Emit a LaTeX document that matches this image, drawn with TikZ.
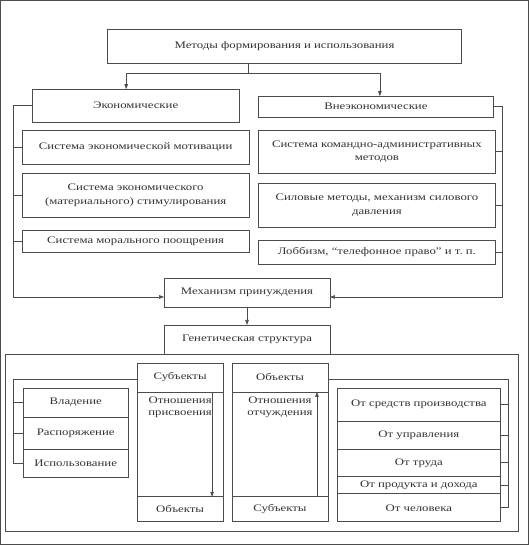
\documentclass[tikz,border=0pt]{standalone}
\usepackage{fontspec}
\setmainfont[FakeStretch=1.28]{Liberation Serif}
\usepackage{tikz}
\usepackage{xcolor}
\usetikzlibrary{positioning,arrows.meta,calc}

\begin{document}
\begin{tikzpicture}[
          x=1pt, y=-1pt,
          box/.style={draw, align=center, text=black!80, font=\fontsize{10}{13.5}\selectfont, inner sep=1pt, outer sep=0pt},
          cell/.style={box, minimum width=#1},
          lbl/.style={align=center, text=black!80, font=\fontsize{10}{12}\selectfont, inner sep=1pt},
          arr/.style={-{Triangle[length=5pt, width=3.5pt]}},
          every path/.style={draw=black!70, line width=0.6pt}
      ]
        \useasboundingbox (0,0) rectangle (529,545);
        % upper part
        \node[box, minimum width=355, minimum height=34] (top) at (284.5,46) {Методы формирования и использования};
        \node[box, minimum width=207, minimum height=33] (econ) at (135.5,105.5) {Экономические};
        \node[box, minimum width=236, minimum height=21] (nonecon) at (376,106.5) {Внеэкономические};
        \node[box, minimum width=227, minimum height=34] (m1) at (135.5,147) {Система экономической мотивации};
        \node[box, minimum width=227, minimum height=44] (m2) at (135.5,195) {Система экономического\\(материального) стимулирования};
        \node[box, minimum width=227, minimum height=22] (m3) at (135.5,241) {Система морального поощрения};
        \node[box, minimum width=238, minimum height=43] (n1) at (377,151.5) {Система командно-административных\\методов};
        \node[box, minimum width=238, minimum height=44] (n2) at (377,205) {Силовые методы, механизм силового\\давления};
        \node[box, minimum width=238, minimum height=24] (n3) at (377,252) {Лоббизм, ``телефонное право'' и т.~п.};
        \node[box, minimum width=166, minimum height=29] (mech) at (247,292.5) {Механизм принуждения};
        \node[box, minimum width=166, minimum height=29] (gen) at (247,339.5) {Генетическая структура};

        \coordinate (split) at (248,73);
        \coordinate (lbus) at (13,297);
        \coordinate (rbus) at (503,297);
        \draw (top.south -| split) -- (split);
        \draw[arr] (split) -| ([xshift=-9.5]econ.north);
        \draw[arr] (split) -| ([xshift=4]nonecon.north);
        \draw (econ.west) -| (lbus);
        \draw[arr] (lbus) -- (lbus -| mech.west);
        \draw (nonecon.east) -| (rbus);
        \draw[arr] (rbus) -- (rbus -| mech.east);
        \foreach \n in {m1,m2,m3} \draw (\n.west) -- (\n.west -| lbus);
        \foreach \n in {n1,n2,n3} \draw (\n.east) -- (\n.east -| rbus);
        \draw[arr] (mech.south) -- (gen.north);

        % genetic structure
        \node[draw, minimum width=514, minimum height=178, outer sep=0pt] (frame) at (262,443) {};
        \node[cell=105, minimum height=29] (own) at (75.5,402.5) {Владение};
        \node[cell=105, minimum height=32] (disp) at (75.5,433) {Распоряжение};
        \node[cell=105, minimum height=29] (use) at (75.5,463.5) {Использование};

        \node[cell=86, minimum height=29] (subjA) at (180,377.5) {Субъекты};
        \node[cell=86, minimum height=105] (midA) at (180,444.5) {};
        \node[cell=86, minimum height=25] (objA) at (180,509.5) {Объекты};
        \node[lbl, below=4pt of midA.north] (relA) {Отношения\\присвоения};

        \node[cell=96, minimum height=29] (objB) at (280,377.5) {Объекты};
        \node[cell=96, minimum height=105] (midB) at (280,444.5) {};
        \node[cell=96, minimum height=25] (subjB) at (280,509.5) {Субъекты};
        \node[lbl, below=4pt of midB.north] (relB) {Отношения\\отчуждения};

        \node[cell=164, minimum height=33] (r1) at (419,404.5) {От средств производства};
        \node[cell=164, minimum height=28] (r2) at (419,435) {От управления};
        \node[cell=164, minimum height=28] (r3) at (419,463) {От труда};
        \node[cell=164, minimum height=17] (r4) at (419,485.5) {От продукта и дохода};
        \node[cell=164, minimum height=28] (r5) at (419,508) {От человека};

        \draw[arr] ([xshift=32]midA.north) -- ([xshift=32]midA.south);
        \draw[arr] ([xshift=37]midB.south) -- ([xshift=37]midB.north);

        \coordinate (lbr) at (13,379);
        \coordinate (rbr) at (509,379);
        \draw (subjA.west |- lbr) -- (lbr) -- (lbr |- use.west);
        \foreach \n in {own,disp,use} \draw (\n.west) -- (\n.west -| lbr);
        \draw (objB.east |- rbr) -- (rbr) -- (rbr |- r5.east);
        \foreach \n in {r1,r2,r3,r4,r5} \draw (\n.east) -- (\n.east -| rbr);
      \end{tikzpicture}
\end{document}
